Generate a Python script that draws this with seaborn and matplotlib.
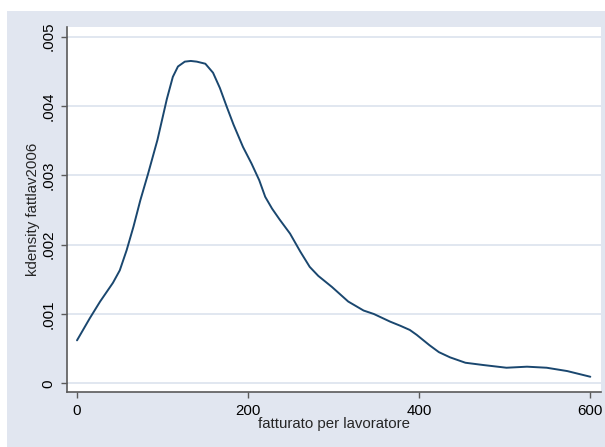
import matplotlib
matplotlib.use("Agg")
import matplotlib.pyplot as plt
import seaborn as sns
import pandas as pd
from matplotlib.patches import Rectangle

# Data (kernel density of fatturato per lavoratore)
fatturato = [0, 15, 27, 42, 50, 58, 66, 74, 83, 94, 105, 112, 118, 126, 133, 140,
             150, 159, 167, 175, 183, 194, 204, 213, 220, 228, 237, 249, 261, 272,
             282, 298, 317, 335, 347, 366, 378, 389, 397, 405, 412, 423, 436, 454,
             475, 502, 526, 549, 573, 600]
densita = [0.00062, 0.00094, 0.00118, 0.00145, 0.00163, 0.00192, 0.00226, 0.00264,
           0.00302, 0.00351, 0.00410, 0.00442, 0.00457, 0.00464, 0.00465, 0.00464,
           0.00461, 0.00448, 0.00426, 0.00399, 0.00373, 0.00341, 0.00317, 0.00293,
           0.00269, 0.00252, 0.00236, 0.00216, 0.00190, 0.00168, 0.00155, 0.00139,
           0.00118, 0.00105, 0.00100, 0.00089, 0.00083, 0.00077, 0.00070, 0.00062,
           0.00055, 0.00045, 0.000375, 0.000297, 0.000264, 0.000225, 0.00024,
           0.000225, 0.000177, 0.000095]
x_ticks = [0, 200, 400, 600]
x_tick_labels = ["0", "200", "400", "600"]
y_ticks = [0, 0.001, 0.002, 0.003, 0.004, 0.005]
y_tick_labels = ["0", ".001", ".002", ".003", ".004", ".005"]
x_label = "fatturato per lavoratore"
y_label = "kdensity fattlav2006"

sns.set_style("white")
plt.rcParams["font.family"] = ["Liberation Sans", "DejaVu Sans"]

W, H = 605, 447
FS = 10.8
fig = plt.figure(figsize=(W / 100, H / 100), dpi=100)
fig.patch.set_facecolor("white")
bg = "#E1E6F0"
fig.patches.append(Rectangle((7 / W, 0), 1 - 7 / W, (H - 11) / H,
                             transform=fig.transFigure, facecolor=bg,
                             edgecolor="none", zorder=-10))

left, right, top, bottom = 67, 601, 26.7, 392
ax = fig.add_axes([left / W, (H - bottom) / H, (right - left) / W, (bottom - top) / H])
ax.set_zorder(1)
ax.set_facecolor("white")

df = pd.DataFrame({"x": fatturato, "y": densita})
sns.lineplot(data=df, x="x", y="y", ax=ax, sort=False, estimator=None,
             color="#1a476f", linewidth=1.4)

ax.set_xlim(-11.7, 612.5)
ax.set_ylim(-0.000125, 0.005144)
ax.set_xticks(x_ticks)
ax.set_xticklabels(x_tick_labels)
ax.set_yticks(y_ticks)
ax.set_yticklabels(y_tick_labels, rotation=90, va="center")

for yt in y_ticks:
    ax.axhline(yt, color="#DCE3EE", linewidth=1.2, zorder=0.5)

for s in ["top", "right"]:
    ax.spines[s].set_visible(False)
for s in ["left", "bottom"]:
    ax.spines[s].set_color("#5a5a5a")
    ax.spines[s].set_linewidth(1.2)

ax.tick_params(axis="both", which="major", direction="out", length=4.5, width=1,
               color="#5a5a5a", labelsize=FS, labelcolor="black", pad=4,
               left=True, bottom=True)

ax.set_xlabel(x_label, fontsize=FS, va="center")
ax.set_ylabel(y_label, fontsize=FS, va="center")
ax.xaxis.set_label_coords(0.5, (bottom - 424) / (bottom - top))
ax.yaxis.set_label_coords((32.7 - left) / (right - left), 0.5)

fig.savefig("out.png", dpi=100, facecolor=fig.get_facecolor())
